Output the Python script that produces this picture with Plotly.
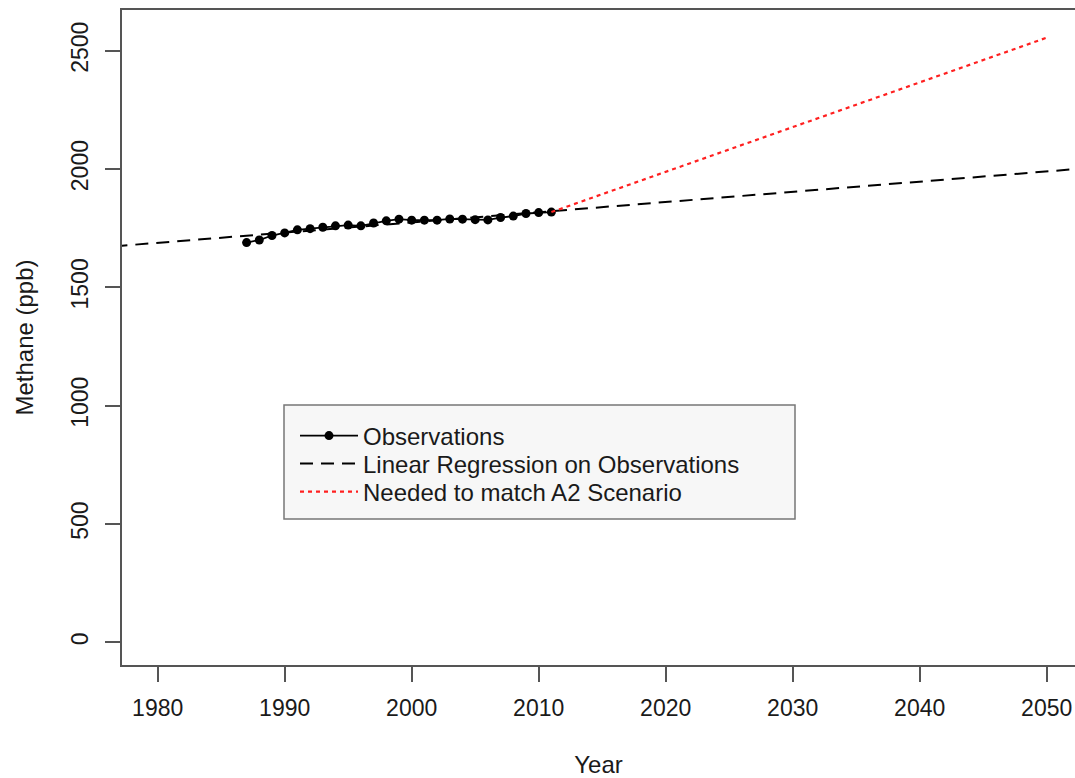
import numpy as np
import plotly.graph_objects as go

# Observations
obs_years = list(range(1987, 2012))
obs_methane = [1689, 1700, 1719, 1730, 1743, 1748, 1754, 1760, 1763, 1760,
               1772, 1781, 1788, 1784, 1784, 1784, 1789, 1788, 1786, 1785,
               1795, 1801, 1812, 1816, 1818]

# A2 scenario target
a2_years = [2011, 2050]
a2_methane = [1818, 2555]

# regression evaluated across the whole axis span (clipped by axis)
reg_span = [1970, 2060]
slope, intercept = np.polyfit(obs_years, obs_methane, 1)
reg_values = [slope * y + intercept for y in reg_span]

x_ticks = [1980, 1990, 2000, 2010, 2020, 2030, 2040, 2050]
y_ticks = [0, 500, 1000, 1500, 2000, 2500]

FONT = "Liberation Sans, Arial, Helvetica, sans-serif"
AX = "#555555"
TXT = "#1a1a1a"

fig = go.Figure()
fig.add_trace(go.Scatter(
    x=obs_years, y=obs_methane, mode="lines+markers", name="Observations",
    line=dict(color="black", width=1.8),
    marker=dict(color="black", size=9), legend="legend",
))
fig.add_trace(go.Scatter(
    x=reg_span, y=reg_values, mode="lines", name="Linear Regression on Observations",
    line=dict(color="black", width=2, dash="13px,8px"), legend="legend2",
))
fig.add_trace(go.Scatter(
    x=a2_years, y=a2_methane, mode="lines", name="Needed to match A2 Scenario",
    line=dict(color="#ff2020", width=2.2, dash="4px,4px"), legend="legend3",
))

W, H = 1075, 778
L, T = 122, 10
PLOT_BOTTOM = 665
B = H - PLOT_BOTTOM
R = 0
pw, ph = W - L - R, PLOT_BOTTOM - T

def px(vx):
    return (vx - L) / pw

def py(vy):
    return (PLOT_BOTTOM - vy) / ph

fig.add_shape(type="rect", xref="paper", yref="paper",
              x0=px(284), x1=px(795), y0=py(519), y1=py(405),
              fillcolor="#f7f7f7", line=dict(color="#777777", width=1.5),
              layer="below")

def leg(row_y):
    return dict(x=px(295), y=py(row_y), xanchor="left", yanchor="middle",
                bgcolor="rgba(0,0,0,0)", borderwidth=0,
                font=dict(size=24, color=TXT), itemwidth=58)

fig.update_layout(
    width=W, height=H,
    margin=dict(l=L, r=R, t=T, b=B),
    paper_bgcolor="white", plot_bgcolor="white",
    font=dict(family=FONT, size=23, color=TXT),
    showlegend=True,
    legend=leg(436), legend2=leg(464), legend3=leg(492),
    xaxis=dict(range=[1977.19, 2052.23], tickvals=x_ticks,
               showline=True, mirror=True, linecolor=AX, linewidth=1.5,
               ticks="outside", ticklen=15, tickwidth=1.5, tickcolor=AX,
               showgrid=False, zeroline=False, ticklabelstandoff=7,
               title=dict(text="Year", standoff=38, font=dict(size=24))),
    yaxis=dict(range=[-96, 2672], tickvals=y_ticks, tickangle=-90,
               showline=True, mirror=False, linecolor=AX, linewidth=1.5,
               ticks="outside", ticklen=15, tickwidth=1.5, tickcolor=AX,
               showgrid=False, zeroline=False, ticklabelstandoff=8,
               title=dict(text="Methane (ppb)", standoff=27, font=dict(size=24))),
)

fig.write_html(
    "out.html",
    config={"displayModeBar": False},
    post_script="document.body.style.margin='0';document.body.style.overflow='hidden';",
)
